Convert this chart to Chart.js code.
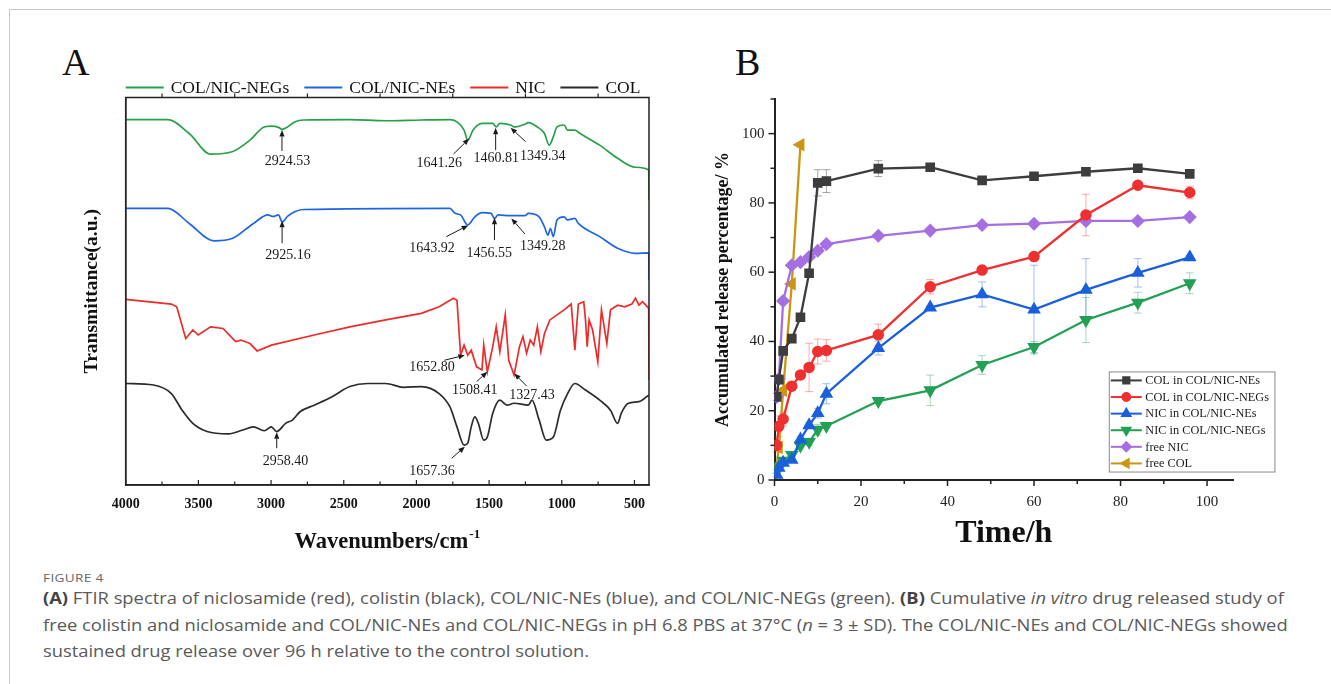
<!DOCTYPE html>
<html>
<head>
<meta charset="utf-8">
<script src="https://cdn.jsdelivr.net/npm/chart.js@4.4.1/dist/chart.umd.min.js"></script>
<style>
	body { margin: 0; background: #fff; width: 1331px; height: 684px; overflow: hidden; position: relative; }
	#frame { position: absolute; left: 9px; top: 9px; width: 1340px; height: 700px; border-left: 1.5px solid #c8c8c8; border-top: 1.5px solid #c8c8c8; }
	.panel { position: absolute; font-family: 'Liberation Serif', serif; font-size: 38px; line-height: 38px; color: #111; }
	#wrapA { position: absolute; left: 40px; top: 60px; width: 620px; height: 500px; }
	#wrapB { position: absolute; left: 690px; top: 80px; width: 600px; height: 480px; }
	.cap { position: absolute; left: 43px; font-family: 'Open Sans', sans-serif; font-size: 15.5px; line-height: 20px; color: #5a5a5a; white-space: nowrap; transform-origin: 0 50%; }
	.cap b { color: #444; }
	#figno { font-size: 11.5px; color: #666; letter-spacing: 0.3px; }
</style>
</head>
<body>
<div id="frame"></div>
<div class="panel" style="left:62px;top:43px">A</div>
<div class="panel" style="left:735px;top:43px">B</div>
<div id="wrapA"><canvas id="chartA" width="620" height="500"></canvas></div>
<div id="wrapB"><canvas id="chartB" width="600" height="480"></canvas></div>
<div class="cap" id="figno" style="top:568px">FIGURE 4</div>
<div class="cap" id="cap1" style="top:588px"><b>(A)</b> FTIR spectra of niclosamide (red), colistin (black), COL/NIC-NEs (blue), and COL/NIC-NEGs (green). <b>(B)</b> Cumulative <i>in vitro</i> drug released study of</div>
<div class="cap" id="cap2" style="top:615px">free colistin and niclosamide and COL/NIC-NEs and COL/NIC-NEGs in pH 6.8 PBS at 37°C (<i>n</i> = 3 ± SD). The COL/NIC-NEs and COL/NIC-NEGs showed</div>
<div class="cap" id="cap3" style="top:641px">sustained drug release over 96 h relative to the control solution.</div>
<script>
/* global Chart */
const serif = "'Liberation Serif', 'Times New Roman', serif";

// ---- Panel A: FTIR spectra (wavenumber, transmittance in arbitrary offset units) ----
const negsWave = [4000, 3710, 3563, 3415, 3268, 3145, 3047, 2998, 2949, 2924, 2887, 2838, 2777, 2458, 2212, 1966, 1770, 1721, 1672, 1647, 1610, 1549, 1475, 1451, 1426, 1352, 1328, 1254, 1230, 1168, 1119, 1087, 1058, 1033, 984, 960, 910, 874, 739, 616, 493, 402, 400];
const negsT = [94.3, 94.3, 90.7, 85.4, 86.0, 89.0, 92.4, 92.6, 92.3, 91.8, 92.4, 93.7, 94.2, 94.3, 94.0, 94.2, 94.3, 93.7, 91.6, 89.0, 91.6, 93.3, 93.3, 92.4, 93.3, 92.9, 92.4, 93.1, 93.5, 92.4, 90.7, 87.7, 89.9, 92.4, 92.9, 91.6, 91.6, 90.7, 87.7, 84.3, 82.0, 81.3, 73.5];

const nesWave = [4000, 3710, 3563, 3391, 3268, 3121, 3022, 2986, 2949, 2924, 2887, 2838, 2777, 1770, 1733, 1696, 1647, 1598, 1549, 1487, 1463, 1438, 1352, 1254, 1230, 1156, 1119, 1095, 1078, 1058, 1033, 984, 960, 910, 886, 739, 616, 493, 402, 400];
const nesT = [71.4, 71.4, 67.5, 63.0, 63.6, 67.5, 69.7, 69.3, 69.7, 67.9, 69.3, 70.5, 71.1, 71.4, 70.1, 69.7, 67.1, 69.2, 70.3, 70.1, 68.8, 69.7, 69.5, 69.5, 70.1, 69.2, 66.6, 64.5, 66.2, 64.1, 68.4, 69.2, 68.4, 68.8, 67.5, 64.1, 61.1, 59.8, 59.9, 52.9];

const nicWave = [4000, 3686, 3649, 3587, 3538, 3501, 3416, 3330, 3244, 3207, 3145, 3096, 2998, 2703, 2458, 2212, 1966, 1844, 1745, 1721, 1696, 1672, 1647, 1623, 1586, 1549, 1537, 1512, 1475, 1451, 1426, 1389, 1365, 1328, 1291, 1267, 1242, 1217, 1193, 1168, 1144, 1119, 1082, 984, 935, 910, 886, 849, 837, 825, 812, 788, 752, 727, 690, 665, 616, 567, 518, 493, 469, 444, 402, 400];
const nicT = [47.9, 46.7, 46.0, 37.8, 40.0, 38.7, 40.8, 40.4, 37.0, 37.4, 36.5, 34.6, 36.1, 38.7, 40.8, 42.6, 44.3, 46.0, 48.2, 47.7, 33.5, 36.1, 33.5, 34.8, 30.5, 29.7, 36.1, 29.2, 35.7, 40.8, 34.4, 43.9, 32.2, 28.4, 35.7, 38.3, 34.0, 37.4, 36.1, 40.8, 34.4, 39.1, 42.6, 45.2, 46.7, 34.8, 46.7, 47.3, 42.6, 35.7, 42.6, 40.0, 31.8, 45.2, 36.5, 45.2, 46.4, 46.0, 46.7, 48.2, 46.4, 47.3, 45.6, 27.1];

const colWave = [4000, 3809, 3686, 3612, 3538, 3440, 3293, 3194, 3121, 3047, 2998, 2961, 2900, 2851, 2801, 2703, 2580, 2458, 2335, 2212, 2089, 1966, 1844, 1770, 1721, 1672, 1647, 1623, 1598, 1574, 1537, 1512, 1475, 1426, 1377, 1328, 1230, 1205, 1156, 1107, 1058, 1009, 960, 910, 837, 739, 665, 616, 591, 542, 469, 402];
const colT = [26.2, 25.8, 23.6, 19.3, 15.9, 13.8, 13.2, 14.2, 15.0, 14.0, 15.0, 13.8, 15.9, 16.8, 18.9, 20.6, 22.8, 25.4, 26.2, 26.2, 25.2, 25.4, 23.6, 20.2, 15.0, 10.3, 10.8, 15.0, 17.6, 15.9, 11.6, 12.4, 18.5, 21.9, 20.6, 21.1, 20.6, 21.9, 16.8, 11.6, 12.4, 19.3, 23.6, 26.2, 24.5, 21.9, 19.3, 15.9, 18.5, 21.1, 21.5, 23.2];

const waveTicks = [4000, 3500, 3000, 2500, 2000, 1500, 1000, 500];
const waveTopTicks = [3750, 3250, 2750, 2250, 1750, 1250, 750];

// peak labels: arrow tip, arrow tail and label centre in (wavenumber, transmittance)
const peakNotes = [
	{ text: '2924.53', tip: [2925, 91.6], tail: [2925, 86.2], label: [2887, 83.4] },
	{ text: '1641.26', tip: [1637, 89.4], tail: [1745, 85.4], label: [1843, 83.0] },
	{ text: '1460.81', tip: [1455, 92.2], tail: [1455, 86.4], label: [1450, 84.3] },
	{ text: '1349.34', tip: [1352, 92.2], tail: [1249, 88.6], label: [1131, 84.9] },
	{ text: '2925.16', tip: [2924, 68.2], tail: [2924, 62.4], label: [2884, 59.3] },
	{ text: '1643.92', tip: [1644, 67.0], tail: [1794, 64.1], label: [1893, 61.1] },
	{ text: '1456.55', tip: [1463, 69.0], tail: [1463, 63.2], label: [1499, 59.8] },
	{ text: '1349.28', tip: [1347, 68.8], tail: [1254, 64.8], label: [1131, 61.5] },
	{ text: '1652.80', tip: [1667, 33.5], tail: [1807, 32.2], label: [1893, 30.4] },
	{ text: '1508.41', tip: [1512, 29.2], tail: [1585, 26.7], label: [1598, 24.5] },
	{ text: '1327.43', tip: [1327, 28.8], tail: [1241, 25.5], label: [1205, 23.2] },
	{ text: '2958.40', tip: [2961, 13.6], tail: [2961, 9.5], label: [2900, 6.0] },
	{ text: '1657.36', tip: [1667, 9.9], tail: [1757, 6.9], label: [1893, 3.4] }
];

// ---- Panel B: cumulative release (%) ----
const times = [0.5, 1, 2, 4, 6, 8, 10, 12, 24, 36, 48, 60, 72, 84, 96];
const colInNEs = [24, 29, 37.3, 40.8, 47.0, 59.7, 85.8, 86.3, 89.9, 90.3, 86.5, 87.7, 89.0, 90.0, 88.4];
const colInNEsSD = [1, 1, 1, 0.5, 0.5, 0.5, 3.8, 3.3, 2.3, 0.5, 0.5, 0.5, 0.5, 0.5, 0.5];
const colInNEGs = [10, 15.5, 17.6, 27.1, 30.3, 32.5, 37.1, 37.4, 41.9, 55.8, 60.6, 64.5, 76.5, 85.1, 83.0];
const colInNEGsSD = [2, 3, 2, 1.2, 1, 7, 3.6, 3.1, 3.1, 2.1, 0.5, 0.5, 6, 0.5, 1.8];
const nicInNEs = [1.5, 3.5, 5.0, 5.8, 11.7, 15.8, 19.3, 24.9, 38.1, 49.8, 53.6, 49.2, 54.9, 59.8, 64.3];
const nicInNEsSD = [0.5, 0.5, 0.5, 0.5, 0.8, 0.8, 1.4, 2.9, 2, 0.5, 3.6, 12.8, 9, 4.1, 0.5];
const nicInNEGs = [2.5, 4.0, 5.6, 7.2, 9.9, 11.0, 14.5, 15.6, 22.8, 25.9, 33.2, 38.4, 46.2, 51.2, 56.8];
const nicInNEGsSD = [0.5, 0.5, 0.5, 0.5, 0.5, 1, 1.5, 0.5, 0.5, 4.4, 2.7, 1.6, 6.5, 3, 3];
const freeNIC = [24, 29.2, 51.7, 62.0, 62.9, 64.4, 66.2, 68.1, 70.5, 72.0, 73.6, 74.0, 74.8, 74.8, 75.9];
const freeColTimes = [0.5, 1, 2, 4, 6];
const freeCOL = [4, 9.4, 25.9, 56.6, 96.8];
const timeTicks = [0, 20, 40, 60, 80, 100];
const percentTicks = [0, 20, 40, 60, 80, 100];

function pairs(xs, ys) {
	return xs.map((v, i) => ({ x: v, y: ys[i] }));
}

function arrow(ctx, x1, y1, x2, y2) {
	const ang = Math.atan2(y2 - y1, x2 - x1);
	const head = 6.5;
	const half = 2.6;
	const bx = x2 - Math.cos(ang) * head;
	const by = y2 - Math.sin(ang) * head;
	ctx.beginPath();
	ctx.moveTo(x1, y1);
	ctx.lineTo(bx, by);
	ctx.stroke();
	ctx.beginPath();
	ctx.moveTo(x2, y2);
	ctx.lineTo(bx + half * Math.sin(ang), by - half * Math.cos(ang));
	ctx.lineTo(bx - half * Math.sin(ang), by + half * Math.cos(ang));
	ctx.closePath();
	ctx.fill();
}

// Decoration for the FTIR panel: frame, ticks, legend, peak labels, x title
const ftirDecor = {
	id: 'ftirDecor',
	afterDraw(chart) {
		const { ctx, chartArea: a, scales: { x, y } } = chart;
		ctx.save();
		ctx.strokeStyle = '#222';
		ctx.lineWidth = 1.5;
		ctx.strokeRect(a.left, a.top, a.right - a.left, a.bottom - a.top);

		ctx.lineWidth = 1.2;
		for (let w = 4000; w >= 500; w -= 250) {
			const px = x.getPixelForValue(w);
			const len = w % 500 === 0 ? 5 : 3.5;
			ctx.beginPath();
			ctx.moveTo(px, a.bottom);
			ctx.lineTo(px, a.bottom - len);
			ctx.stroke();
		}
		waveTopTicks.forEach((w) => {
			const px = x.getPixelForValue(w);
			ctx.beginPath();
			ctx.moveTo(px, a.top);
			ctx.lineTo(px, a.top - 4);
			ctx.stroke();
		});

		// legend above the frame
		ctx.font = '17.5px ' + serif;
		ctx.textBaseline = 'alphabetic';
		ctx.textAlign = 'left';
		let lx = a.left;
		const ly = a.top - 10;
		chart.data.datasets.forEach((ds) => {
			ctx.strokeStyle = ds.borderColor;
			ctx.lineWidth = 2;
			ctx.beginPath();
			ctx.moveTo(lx, ly);
			ctx.lineTo(lx + 38, ly);
			ctx.stroke();
			ctx.fillStyle = '#111';
			ctx.fillText(ds.label, lx + 45, ly + 5.5);
			lx += 45 + ctx.measureText(ds.label).width + 15;
		});

		// peak labels with arrows
		ctx.fillStyle = '#1a1a1a';
		ctx.strokeStyle = '#1a1a1a';
		ctx.lineWidth = 1;
		ctx.font = '14px ' + serif;
		ctx.textAlign = 'center';
		ctx.textBaseline = 'middle';
		peakNotes.forEach((n) => {
			arrow(ctx,
				x.getPixelForValue(n.tail[0]), y.getPixelForValue(n.tail[1]),
				x.getPixelForValue(n.tip[0]), y.getPixelForValue(n.tip[1]));
			ctx.fillText(n.text, x.getPixelForValue(n.label[0]), y.getPixelForValue(n.label[1]));
		});

		// x title with superscript
		ctx.fillStyle = '#111';
		ctx.textAlign = 'left';
		ctx.textBaseline = 'alphabetic';
		const main = 'Wavenumbers/cm';
		ctx.font = 'bold 13px ' + serif;
		const supW = ctx.measureText('-1').width;
		ctx.font = 'bold 22.5px ' + serif;
		const mainW = ctx.measureText(main).width;
		const cx = (a.left + a.right) / 2;
		const tx = cx - (mainW + supW + 1) / 2;
		const base = a.bottom + 63;
		ctx.fillText(main, tx, base);
		ctx.font = 'bold 13px ' + serif;
		ctx.fillText('-1', tx + mainW + 1, base - 10);
		ctx.restore();
	}
};

const chartA = new Chart(document.getElementById('chartA'), {
	type: 'line',
	data: {
		datasets: [
			{ label: 'COL/NIC-NEGs', data: pairs(negsWave, negsT), borderColor: '#27a04a', cubicInterpolationMode: 'monotone' },
			{ label: 'COL/NIC-NEs', data: pairs(nesWave, nesT), borderColor: '#1c66e6', cubicInterpolationMode: 'monotone' },
			{ label: 'NIC', data: pairs(nicWave, nicT), borderColor: '#ee2a2a', tension: 0 },
			{ label: 'COL', data: pairs(colWave, colT), borderColor: '#2b2b2b', cubicInterpolationMode: 'monotone' }
		]
	},
	options: {
		responsive: false,
		animation: false,
		events: [],
		layout: { padding: { left: 0, right: 11, top: 37.5, bottom: 0 } },
		elements: { point: { radius: 0 }, line: { borderWidth: 1.7, fill: false } },
		plugins: { legend: { display: false }, tooltip: { enabled: false } },
		scales: {
			x: {
				type: 'linear',
				reverse: true,
				min: 400,
				max: 4000,
				afterBuildTicks: (s) => { s.ticks = waveTicks.map((v) => ({ value: v })); },
				ticks: {
					font: { family: serif, size: 14, weight: 'bold' },
					color: '#111',
					padding: 11,
					maxRotation: 0,
					autoSkip: false,
					callback: (value) => String(value)
				},
				grid: { display: false, drawTicks: false },
				border: { display: true, color: '#222', width: 1.5 },
				afterFit: (s) => { s.height = 75; }
			},
			y: {
				min: 0,
				max: 100,
				ticks: { display: false },
				grid: { display: false, drawTicks: false },
				border: { display: true, color: '#222', width: 1.5 },
				title: { display: true, text: 'Transmittance(a.u.)', font: { family: serif, size: 19.5, weight: 'bold' }, color: '#111', padding: { top: 40, bottom: 40 } },
				afterFit: (s) => { s.width = 85.7; }
			}
		}
	},
	plugins: [ftirDecor]
});

// Error bars, outward ticks and boxed legend for the release panel
const releaseDecor = {
	id: 'releaseDecor',
	beforeDatasetsDraw(chart) {
		const { ctx, scales: { x, y } } = chart;
		ctx.save();
		ctx.lineWidth = 1;
		chart.data.datasets.forEach((ds) => {
			if (!ds.sd) return;
			ctx.strokeStyle = ds.errColor;
			ds.data.forEach((p, i) => {
				const px = x.getPixelForValue(p.x);
				const top = y.getPixelForValue(p.y + ds.sd[i]);
				const bot = y.getPixelForValue(p.y - ds.sd[i]);
				ctx.beginPath();
				ctx.moveTo(px, top); ctx.lineTo(px, bot);
				ctx.moveTo(px - 4, top); ctx.lineTo(px + 4, top);
				ctx.moveTo(px - 4, bot); ctx.lineTo(px + 4, bot);
				ctx.stroke();
			});
		});
		ctx.restore();
	},
	afterDraw(chart) {
		const { ctx, chartArea: a, scales: { x, y } } = chart;
		ctx.save();
		ctx.strokeStyle = '#222';
		ctx.lineWidth = 1.5;
		for (let t = 0; t <= 100; t += 10) {
			const px = x.getPixelForValue(t);
			ctx.beginPath();
			ctx.moveTo(px, a.bottom);
			ctx.lineTo(px, a.bottom + (t % 20 === 0 ? 6 : 4));
			ctx.stroke();
		}
		for (let v = 0; v <= 110; v += 10) {
			const py = y.getPixelForValue(v);
			ctx.beginPath();
			ctx.moveTo(a.left, py);
			ctx.lineTo(a.left - (v % 20 === 0 ? 6 : 4), py);
			ctx.stroke();
		}

		// legend box inside the plot
		const bx = x.getPixelForValue(77.4);
		const by = y.getPixelForValue(31.2);
		const rowH = 16.6;
		ctx.font = '12.3px ' + serif;
		ctx.textBaseline = 'middle';
		ctx.textAlign = 'left';
		let wMax = 0;
		chart.data.datasets.forEach((ds) => { wMax = Math.max(wMax, ctx.measureText(ds.label).width); });
		ctx.strokeStyle = '#8a8a8a';
		ctx.lineWidth = 1;
		ctx.strokeRect(bx, by, 36 + wMax + 6, rowH * 6 + 0.5);
		chart.data.datasets.forEach((ds, i) => {
			const ry = by + 8.5 + i * rowH;
			ctx.strokeStyle = ds.borderColor;
			ctx.lineWidth = 2;
			ctx.beginPath();
			ctx.moveTo(bx + 1.5, ry);
			ctx.lineTo(bx + 32.5, ry);
			ctx.stroke();
			ctx.fillStyle = ds.pointBackgroundColor;
			ctx.strokeStyle = ds.pointBackgroundColor;
			Chart.helpers.drawPoint(ctx, { pointStyle: ds.pointStyle, rotation: ds.pointRotation || 0, radius: ds.pointRadius * 0.85, borderWidth: 1 }, bx + 17, ry);
			ctx.fillStyle = '#1a1a1a';
			ctx.fillText(ds.label, bx + 36, ry + 0.5);
		});
		ctx.restore();
	}
};

function releaseSet(label, xs, ys, sd, color, errColor, style, radius, rotation) {
	return {
		label: label,
		data: pairs(xs, ys),
		sd: sd,
		errColor: errColor,
		borderColor: color,
		backgroundColor: color,
		pointBackgroundColor: color,
		pointBorderColor: color,
		pointStyle: style,
		pointRadius: radius,
		pointRotation: rotation,
		borderWidth: 2.3,
		tension: 0
	};
}

const chartB = new Chart(document.getElementById('chartB'), {
	type: 'line',
	data: {
		datasets: [
			releaseSet('COL in COL/NIC-NEs', times, colInNEs, colInNEsSD, '#3d3d3d', 'rgba(60,60,60,0.45)', 'rect', 5.2, 0),
			releaseSet('COL in COL/NIC-NEGs', times, colInNEGs, colInNEGsSD, '#ef3030', 'rgba(239,48,48,0.4)', 'circle', 4.6, 0),
			releaseSet('NIC in COL/NIC-NEs', times, nicInNEs, nicInNEsSD, '#1a5fdc', 'rgba(26,95,220,0.4)', 'triangle', 5.6, 0),
			releaseSet('NIC in COL/NIC-NEGs', times, nicInNEGs, nicInNEGsSD, '#22a055', 'rgba(34,160,85,0.4)', 'triangle', 5.6, 180),
			releaseSet('free NIC', times, freeNIC, null, '#a56fe2', 'rgba(165,111,226,0.4)', 'rectRot', 5.4, 0),
			releaseSet('free COL', freeColTimes, freeCOL, null, '#cc9512', 'rgba(204,149,18,0.4)', 'triangle', 5.6, 270)
		]
	},
	options: {
		responsive: false,
		animation: false,
		events: [],
		layout: { padding: { left: 0, right: 57, top: 16.7, bottom: 0 } },
		plugins: { legend: { display: false }, tooltip: { enabled: false } },
		scales: {
			x: {
				type: 'linear',
				min: 0,
				max: 106,
				afterBuildTicks: (s) => { s.ticks = timeTicks.map((v) => ({ value: v })); },
				ticks: { font: { family: serif, size: 15 }, color: '#222', padding: 13, maxRotation: 0, autoSkip: false },
				grid: { display: false, drawTicks: false },
				border: { display: true, color: '#222', width: 2 },
				title: { display: true, text: 'Time/h', font: { family: serif, size: 32, weight: 'bold' }, color: '#111', padding: { top: 7, bottom: 7 } },
				afterFit: (s) => { s.height = 80; }
			},
			y: {
				min: 0,
				max: 110,
				afterBuildTicks: (s) => { s.ticks = percentTicks.map((v) => ({ value: v })); },
				ticks: { font: { family: serif, size: 15 }, color: '#222', padding: 10, autoSkip: false },
				grid: { display: false, drawTicks: false },
				border: { display: true, color: '#222', width: 2 },
				title: { display: true, text: 'Accumulated release percentage/ %', font: { family: serif, size: 18, weight: 'bold' }, color: '#111', padding: { top: 23, bottom: 23 } },
				afterFit: (s) => { s.width = 84.5; }
			}
		}
	},
	plugins: [releaseDecor]
});

// squeeze the caption lines to the journal's condensed width
const cap1 = document.getElementById('cap1');
const cap2 = document.getElementById('cap2');
const squeeze = (1233 / cap1.offsetWidth + 1253 / cap2.offsetWidth) / 2;
['cap1', 'cap2', 'cap3', 'figno'].forEach((id) => {
	document.getElementById(id).style.transform = 'scaleX(' + squeeze + ')';
});
</script>
</body>
</html>
